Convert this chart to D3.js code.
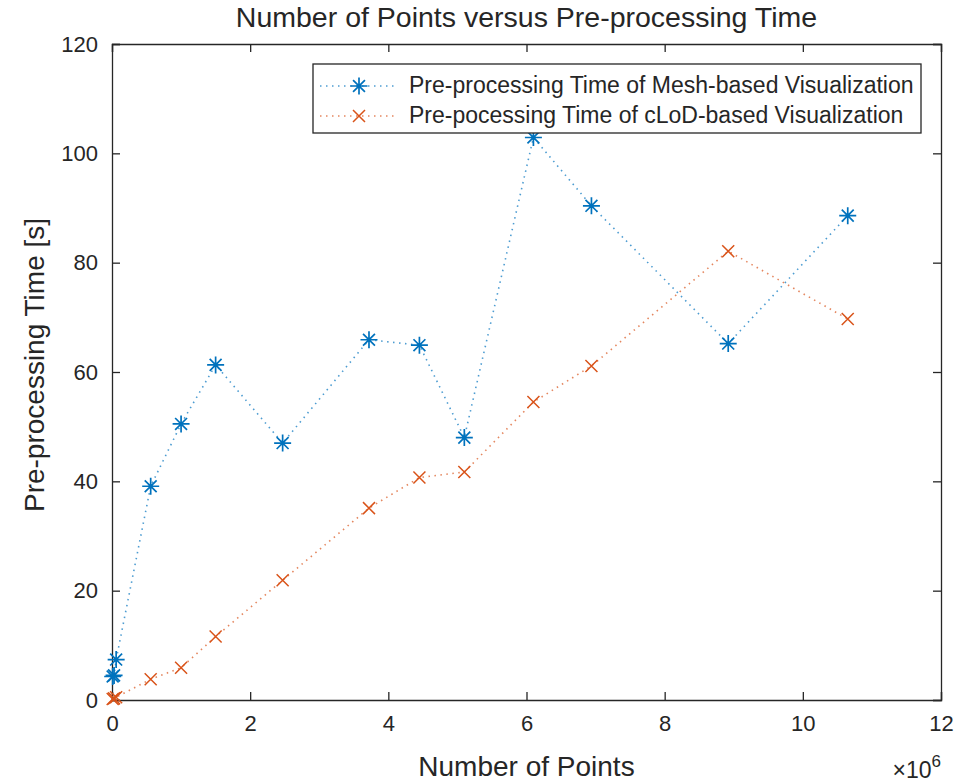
<!DOCTYPE html>
<html>
<head>
<meta charset="utf-8">
<title>Number of Points versus Pre-processing Time</title>
<script src="https://d3js.org/d3.v7.min.js"></script>
<style>
  body { margin: 0; background: #fff; }
  text { font-family: "Liberation Sans", Arial, Helvetica, sans-serif; fill: #262626; }
</style>
</head>
<body>
<svg id="chart" width="968" height="782"></svg>
<script>
// number of points (x 10^6)
var points = [0.01, 0.03, 0.06, 0.56, 1.0, 1.5, 2.47, 3.72, 4.45, 5.1, 6.1, 6.94, 8.92, 10.65];
// pre-processing time [s]
var meshTime = [4.3, 4.5, 7.4, 39.1, 50.5, 61.3, 47.0, 65.9, 64.9, 48.0, 102.9, 90.4, 65.2, 88.6];
var clodTime = [0.2, 0.3, 0.5, 3.8, 5.9, 11.6, 21.9, 35.1, 40.7, 41.7, 54.5, 61.1, 82.1, 69.7];
var xTicks = [0, 2, 4, 6, 8, 10, 12];
var yTicks = [0, 20, 40, 60, 80, 100, 120];
var seriesNames = ["Pre-processing Time of Mesh-based Visualization",
                   "Pre-pocessing Time of cLoD-based Visualization"];

var svg = d3.select("#chart");
var mLeft = 112, mRight = 941, mTop = 44, mBottom = 700;
var axisColor = "#262626";
var blue = "#0072BD", orange = "#D95319";

var x = d3.scaleLinear([0, 12], [mLeft, mRight]);
var y = d3.scaleLinear([0, 120], [mBottom, mTop]);

// axes (ticks inside, box on all sides)
var tickFont = "22px";
svg.append("g").attr("transform", "translate(0," + mBottom + ")")
    .call(d3.axisBottom(x).tickValues(xTicks).tickSize(-8).tickPadding(15).tickFormat(d3.format("d")))
    .call(g => g.selectAll("text").style("font-size", tickFont));
svg.append("g").attr("transform", "translate(0," + mTop + ")")
    .call(d3.axisTop(x).tickValues(xTicks).tickSize(-8).tickFormat(""));
svg.append("g").attr("transform", "translate(" + mLeft + ",0)")
    .call(d3.axisLeft(y).tickValues(yTicks).tickSize(-8).tickPadding(14).tickFormat(d3.format("d")))
    .call(g => g.selectAll("text").style("font-size", tickFont));
svg.append("g").attr("transform", "translate(" + mRight + ",0)")
    .call(d3.axisRight(y).tickValues(yTicks).tickSize(-8).tickFormat(""));
svg.selectAll(".domain").attr("stroke", axisColor).attr("stroke-width", 1.3);
svg.selectAll(".tick line").attr("stroke", axisColor).attr("stroke-width", 1.3);
svg.selectAll(".tick text").attr("fill", axisColor);

// labels
svg.append("text").attr("x", (mLeft + mRight) / 2).attr("y", 27)
    .attr("text-anchor", "middle").style("font-size", "28.5px")
    .text("Number of Points versus Pre-processing Time");
svg.append("text").attr("x", (mLeft + mRight) / 2).attr("y", 776)
    .attr("text-anchor", "middle").style("font-size", "28px")
    .text("Number of Points");
svg.append("text").attr("transform", "translate(44," + 365 + ") rotate(-90)")
    .attr("text-anchor", "middle").style("font-size", "28px")
    .text("Pre-processing Time [s]");
var exp = svg.append("text").attr("x", mRight).attr("y", 778)
    .attr("text-anchor", "end").style("font-size", "23px");
exp.append("tspan").text("\u00d710");
exp.append("tspan").attr("dy", -11).style("font-size", "17px").text("6");

// markers
function star(g, cx, cy, color) {
    var r = 8.5, d = r * 0.7;
    g.append("path")
        .attr("d", "M" + (cx - r) + "," + cy + "h" + (2 * r) +
                   "M" + cx + "," + (cy - r) + "v" + (2 * r) +
                   "M" + (cx - d) + "," + (cy - d) + "l" + (2 * d) + "," + (2 * d) +
                   "M" + (cx - d) + "," + (cy + d) + "l" + (2 * d) + "," + (-2 * d))
        .attr("stroke", color).attr("stroke-width", 1.7).attr("fill", "none");
}
function cross(g, cx, cy, color) {
    var d = 6;
    g.append("path")
        .attr("d", "M" + (cx - d) + "," + (cy - d) + "l" + (2 * d) + "," + (2 * d) +
                   "M" + (cx - d) + "," + (cy + d) + "l" + (2 * d) + "," + (-2 * d))
        .attr("stroke", color).attr("stroke-width", 1.5).attr("fill", "none");
}

var line = d3.line().x(d => x(d[0])).y(d => y(d[1]));
var series = [
    { vals: meshTime, color: blue, marker: star },
    { vals: clodTime, color: orange, marker: cross }
];
series.forEach(function (s) {
    var data = points.map((p, i) => [p, s.vals[i]]);
    svg.append("path").datum(data).attr("d", line)
        .attr("fill", "none").attr("stroke", s.color).attr("stroke-width", 1.6)
        .attr("stroke-dasharray", "1.5 4.5").attr("stroke-opacity", 0.7);
    var g = svg.append("g");
    data.forEach(d => s.marker(g, x(d[0]), y(d[1]), s.color));
});

// legend
var lg = svg.append("g");
lg.append("rect").attr("x", 313).attr("y", 64).attr("width", 608).attr("height", 69)
    .attr("fill", "#fff").attr("stroke", axisColor).attr("stroke-width", 1.3);
series.forEach(function (s, i) {
    var ly = 86 + i * 30;
    lg.append("line").attr("x1", 320).attr("x2", 398).attr("y1", ly).attr("y2", ly)
        .attr("stroke", s.color).attr("stroke-width", 1.6).attr("stroke-dasharray", "1.5 4.5")
        .attr("stroke-opacity", 0.7);
    s.marker(lg, 359, ly, s.color);
    lg.append("text").attr("x", 409).attr("y", ly + 7).style("font-size", "23px")
        .text(seriesNames[i]);
});
</script>
</body>
</html>
